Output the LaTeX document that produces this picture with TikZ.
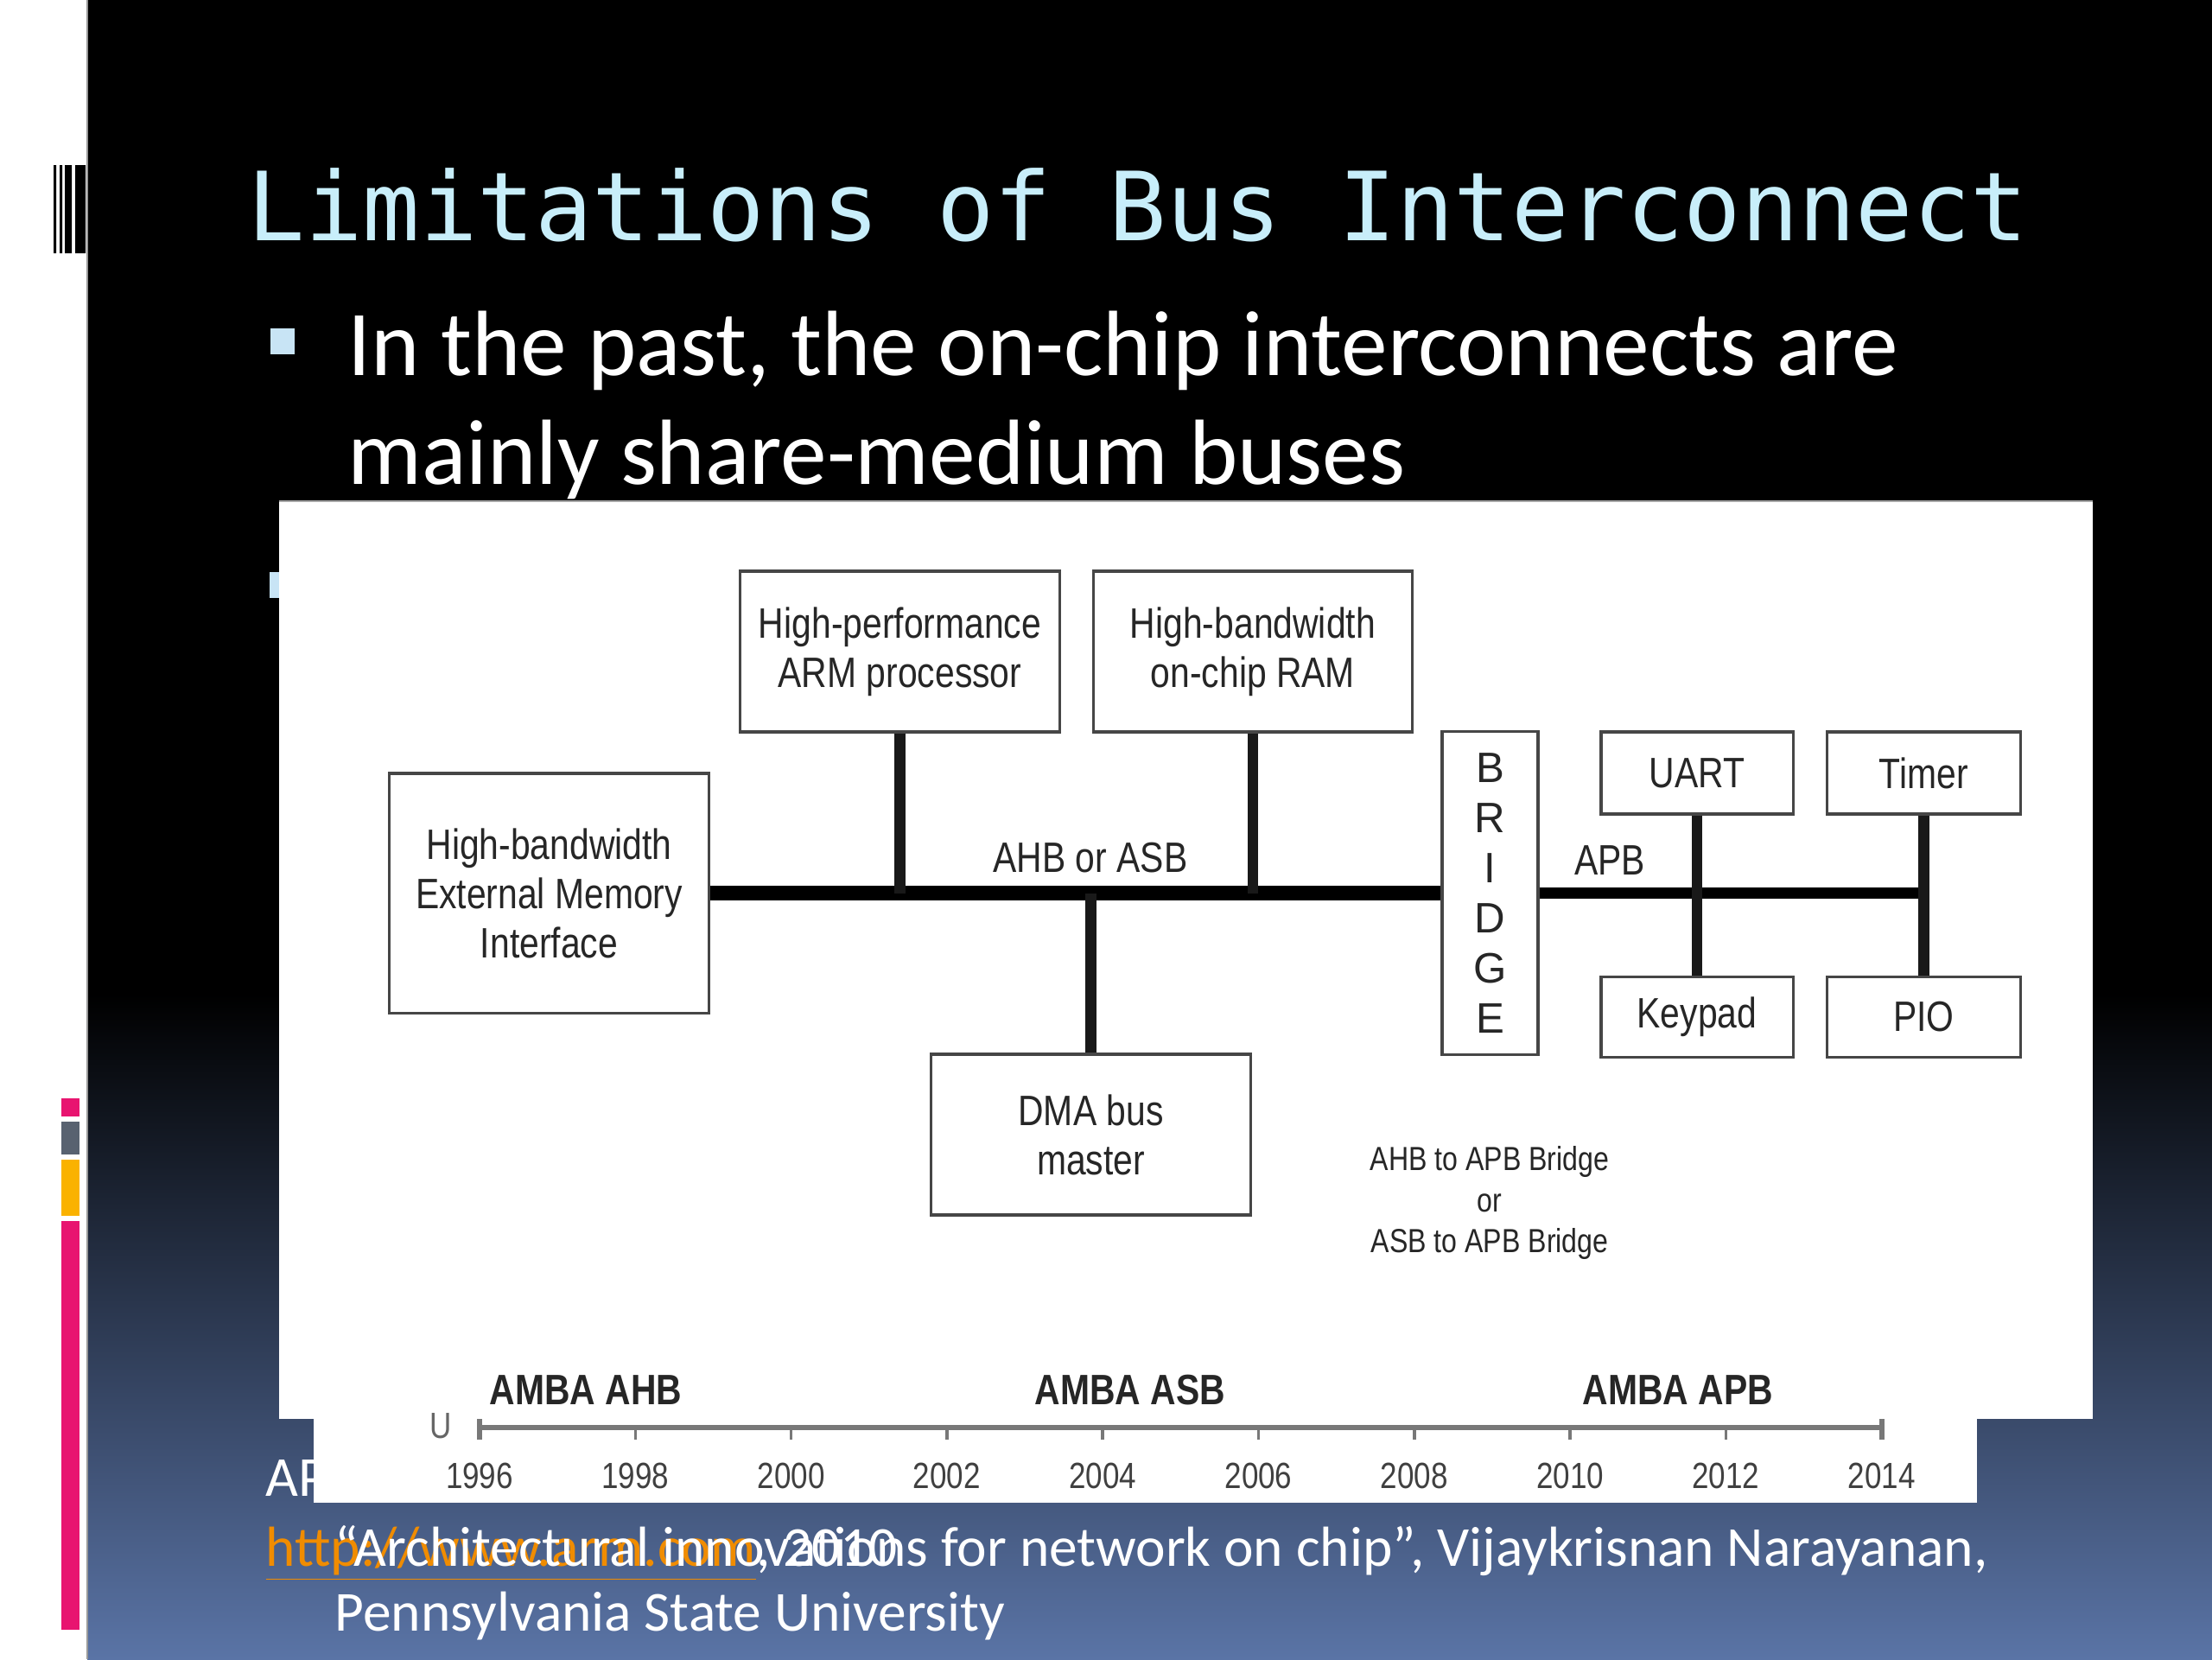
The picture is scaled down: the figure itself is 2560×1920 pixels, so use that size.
\documentclass[tikz,border=0pt]{standalone}
\usepackage{fontspec}
\setmainfont{Carlito}
\newfontfamily\titlefont{DejaVu Sans Mono}
\newfontfamily\figfont[FakeStretch=0.83]{Liberation Sans}
\newfontfamily\bridgefont{Liberation Sans}
\usetikzlibrary{positioning, calc}
\definecolor{ctitle}{RGB}{200,238,250}
\definecolor{cbullet}{RGB}{200,228,245}
\definecolor{cslide}{RGB}{90,116,166}
\definecolor{cpink}{RGB}{232,20,112}
\definecolor{cslate}{RGB}{88,98,112}
\definecolor{camber}{RGB}{250,178,0}
\definecolor{clink}{RGB}{240,140,0}
\definecolor{cframe}{RGB}{70,70,70}
\definecolor{caxis}{RGB}{120,120,120}
\tikzset{
  every picture/.style={x=0.01cm, y=-0.01cm},
  blk/.style={draw=cframe, fill=white, line width=0.9pt, align=center, inner sep=0pt,
              font=\figfont\fontsize{14}{16.2}\selectfont, text=black!85},
  bus/.style={line width=5.1pt, draw=black},
  apb/.style={line width=3.6pt, draw=black},
  stub/.style={line width=3.6pt, draw=black!90},
  buslabel/.style={font=\figfont\fontsize{14}{16}\selectfont, text=black!85},
  era/.style={font=\figfont\bfseries\fontsize{14}{16}\selectfont, text=black!85, anchor=base},
  year/.style={font=\figfont\fontsize{12}{14}\selectfont, text=black!75, anchor=base},
  axisline/.style={draw=caxis, line width=1.6pt},
  title/.style={font=\titlefont\fontsize{31.4}{36}\selectfont, text=ctitle, anchor=base west, inner sep=0pt},
  body/.style={font=\fontsize{30.5}{36}\selectfont, text=white, anchor=base west, inner sep=0pt},
  foot/.style={font=\fontsize{18.6}{22}\selectfont, text=white, anchor=base west, inner sep=0pt},
}

\begin{document}
\begin{tikzpicture}
  % slide background
  \useasboundingbox (0,0) rectangle (2560,1920);
  \fill[white] (0,0) rectangle (101,1920);
  \fill[black] (101,0) rectangle (2560,1150);
  \shade[top color=black, bottom color=cslide] (101,1150) rectangle (2560,1920);
  \draw[black!40, line width=0.6pt] (101,0) -- (101,1920);
  % theme marks on the left edge
  \fill[black] (62,191) rectangle (65,293) (69,191) rectangle (72,293)
               (75,191) rectangle (83,293) (87,191) rectangle (99,293);
  \fill[cpink] (71,1271) rectangle (92,1292);
  \fill[cslate] (71,1298) rectangle (92,1336);
  \fill[camber] (71,1342) rectangle (92,1407);
  \fill[cpink] (71,1413) rectangle (92,1886);

  % title and bullets
  \node[title] (title) at (286,278) {Limitations of Bus Interconnect};
  \fill[cbullet] (313,380) rectangle (341,410);
  \fill[cbullet] (312,662) rectangle (340,692);
  \node[body] (line1) at (402,434) {In the past, the on-chip interconnects are};
  \node[body] (line2) at (402,560) {mainly share-medium buses};
  \node[foot] (hidden) at (307,1731) {AP};

  % figure panels
  \fill[white] (323,580) rectangle (2422,1642);
  \fill[white] (363,1642) rectangle (2288,1739);
  \draw[black!35, line width=0.8pt] (323,580) -- (2422,580);

  % AHB side
  \node[blk, minimum width=3.69cm, minimum height=2.77cm] (ext) at (635.5,1033.5)
    {High-bandwidth\\External Memory\\Interface};
  \node[blk, minimum width=3.69cm, minimum height=1.86cm] (arm) at (1041.5,754)
    {High-performance\\ARM processor};
  \node[blk, minimum width=3.69cm, minimum height=1.86cm, right=0.36cm of arm] (ram)
    {High-bandwidth\\on-chip RAM};
  \node[blk, minimum width=3.69cm, minimum height=1.86cm] (dma) at (1262.5,1313)
    {DMA bus\\master};
  \node[blk, minimum width=1.11cm, minimum height=3.73cm, font=\bridgefont\fontsize{14}{16.5}\selectfont]
    (bridge) at (1724.5,1033.5) {B\\R\\I\\D\\G\\E};

  % APB side
  \node[blk, minimum width=2.22cm, minimum height=0.95cm] (uart) at (1964,894.5) {UART};
  \node[blk, minimum width=2.24cm, minimum height=0.95cm, right=0.36cm of uart] (timer) {Timer};
  \node[blk, minimum width=2.22cm, minimum height=0.93cm, below=1.85cm of uart] (keypad) {Keypad};
  \node[blk, minimum width=2.24cm, minimum height=0.93cm, below=1.85cm of timer] (pio) {PIO};

  % buses
  \draw[bus] (ext.east) -- (bridge.west);
  \draw[stub] (arm.south) -- (arm.south |- ext.east);
  \draw[stub] (ram.south) -- (ram.south |- ext.east);
  \draw[stub] (dma.north) -- (dma.north |- ext.east);
  \coordinate (apbend) at (timer.south |- bridge.east);
  \draw[apb] (bridge.east) -- (apbend);
  \draw[stub] (uart.south) -- (keypad.north);
  \draw[stub] (timer.south) -- (pio.north);

  \node[buslabel] (ahblbl) at (1262,993) {AHB or ASB};
  \node[buslabel] (apblbl) at (1863,996) {APB};
  \node[buslabel, align=center, font=\figfont\fontsize{11}{13.4}\selectfont] (brcap) at (1724,1392)
    {AHB to APB Bridge\\or\\ASB to APB Bridge};

  % timeline
  \node[era] (ahb) at (678,1625) {AMBA AHB};
  \node[era] (asb) at (1308,1625) {AMBA ASB};
  \node[era] (apbera) at (1942,1625) {AMBA APB};
  \draw[axisline] (555,1652) -- (2178,1652);
  \draw[axisline] (555,1642) -- (555,1666);
  \draw[axisline] (2178,1642) -- (2178,1666);
  \foreach \yr in {1998,2000,...,2012}
    \draw[axisline, line width=1pt] ({555+(\yr-1996)*90.15},1652) -- ++(0,14);
  \node[year, text=black!60] (zero) at (510,1664) {U};
  \foreach \yr in {1996,1998,...,2014}
    \node[year] (y\yr) at ({555+(\yr-1996)*90.15},1722) {\yr};

  % references
  \node[foot] (link) at (307,1812) {\textcolor{clink}{\underline{http://www.arm.com}}, 2010};
  \node[foot] (ref) at (387,1812) {“Architectural innovations for network on chip”, Vijaykrisnan Narayanan,};
  \node[foot] (univ) at (387,1887) {Pennsylvania State University};
\end{tikzpicture}
\end{document}
